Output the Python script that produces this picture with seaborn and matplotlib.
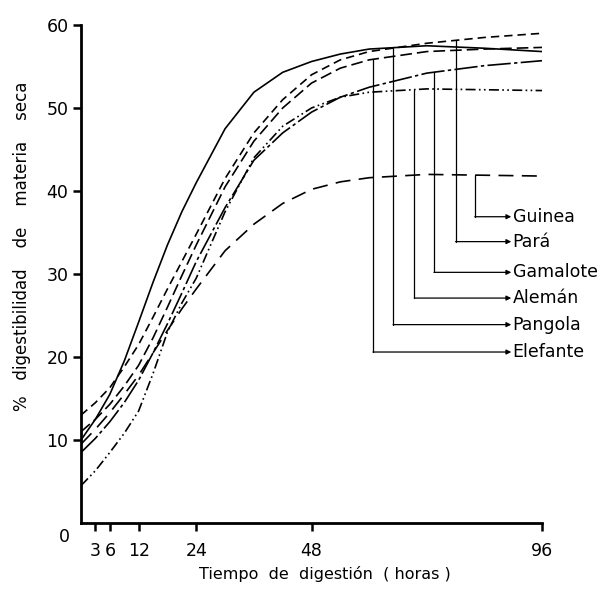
import numpy as np
import pandas as pd
import matplotlib
matplotlib.use("Agg")
import matplotlib.pyplot as plt
import seaborn as sns

hours = [0, 3, 6, 9, 12, 15, 18, 21, 24, 30, 36, 42, 48, 54, 60, 72, 84, 96]
pangola  = [10, 12.5, 15.5, 19.5, 24.2, 29, 33.5, 37.5, 41, 47.5, 51.9, 54.3, 55.6, 56.5, 57.1, 57.5, 57.2, 56.8]
para     = [13, 14.5, 16.3, 18.8, 21.5, 24.8, 28.2, 31.5, 34.8, 41.5, 47, 51, 54, 55.8, 56.8, 57.8, 58.5, 59]
elefante = [11, 12.5, 14.3, 16.5, 19, 22.3, 26, 29.8, 33.5, 40.5, 46, 50, 53, 54.8, 55.8, 56.8, 57.1, 57.3]
gamalote = [8.5, 10.2, 12.2, 14.5, 17.2, 20.5, 24, 27.7, 31.5, 38, 43.7, 47, 49.5, 51.3, 52.5, 54.2, 55.1, 55.7]
aleman   = [4.5, 6.3, 8.5, 10.8, 13.5, 18, 23, 26.5, 29.5, 37.5, 44, 47.8, 50, 51.3, 51.9, 52.3, 52.2, 52.1]
guinea   = [9.5, 11.3, 13.3, 15.5, 17.8, 20.5, 23.2, 25.8, 28.2, 32.8, 36, 38.5, 40.2, 41.1, 41.6, 42, 41.9, 41.8]

names = ["Guinea", "Pará", "Gamalote", "Alemán", "Pangola", "Elefante"]
series = [guinea, para, gamalote, aleman, pangola, elefante]
leader_x = [82, 78, 73.5, 69.4, 65, 60.8]
label_y = [36.9, 33.9, 30.2, 27.1, 23.9, 20.6]
styles = {
    "Guinea": (0, (9, 5)),
    "Pará": (0, (5, 3)),
    "Gamalote": (0, (14, 2, 2, 2)),
    "Alemán": (0, (6, 2, 1, 2, 1, 2)),
    "Pangola": "-",
    "Elefante": (0, (7, 3)),
}

sns.set_style("white")
plt.rcParams["font.family"] = ["DejaVu Sans"]
plt.rcParams["text.color"] = "black"
plt.rcParams["xtick.color"] = "black"
plt.rcParams["ytick.color"] = "black"

fig = plt.figure(figsize=(6.05, 5.91), dpi=100)
ax = fig.add_axes([81/605, 1-523/591, (542-81)/605, (523-25)/591])

for name, vals in zip(names, series):
    sns.lineplot(x=hours, y=vals, ax=ax, color="black", lw=1.2,
                 linestyle=styles[name])

for name, vals, lx, ly in zip(names, series, leader_x, label_y):
    top = float(np.interp(lx, hours, vals))
    ax.plot([lx, lx], [top, ly], color="black", lw=0.9, clip_on=False)
    ax.annotate("", xy=(89.6, ly), xytext=(lx, ly), annotation_clip=False,
                arrowprops=dict(arrowstyle="-|>", color="black", lw=0.9,
                                mutation_scale=7, shrinkA=0, shrinkB=0))
    ax.text(89.9, ly, name, va="center", ha="left", fontsize=12.5, clip_on=False)

ax.set_xlim(0, 96)
ax.set_ylim(0, 60)
ax.set_xticks([3, 6, 12, 24, 48, 96])
ax.set_xticklabels(["3", "6", "12", "24", "48", "96"])
ax.set_yticks([10, 20, 30, 40, 50, 60])
ax.set_yticklabels(["10", "20", "30", "40", "50", "60"])
ax.tick_params(axis="both", direction="out", length=6, width=1.8, labelsize=12.5,
               color="black", labelcolor="black", bottom=True, left=True)
ax.tick_params(axis="x", pad=8)
ax.tick_params(axis="y", pad=3)
ax.text(-3.5, -1.7, "0", ha="center", va="center", fontsize=12.5)
for s in ["top", "right"]:
    ax.spines[s].set_visible(False)
for s in ["left", "bottom"]:
    ax.spines[s].set_linewidth(2)
    ax.spines[s].set_color("black")

fig.text(325/605, 1-574/591, "Tiempo  de  digestión  ( horas )", fontsize=11.5,
         ha="center", va="center")
fig.text(22/605, 1-246/591, "%   digestibilidad    de    materia    seca", fontsize=12,
         ha="center", va="center", rotation=90)

fig.savefig("out.png", dpi=100)
